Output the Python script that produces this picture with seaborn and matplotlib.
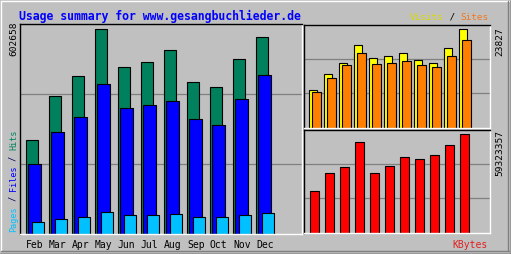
import numpy as np
import matplotlib
matplotlib.use("Agg")
import matplotlib.pyplot as plt
from matplotlib.lines import Line2D
import seaborn as sns

months = ['Feb', 'Mar', 'Apr', 'May', 'Jun', 'Jul', 'Aug', 'Sep', 'Oct', 'Nov', 'Dec']
hits = [276000, 406000, 464000, 602658, 491000, 506000, 541000, 447000, 432000, 515000, 579000]
files = [206000, 300000, 344000, 441000, 370000, 379000, 391000, 338000, 320000, 397000, 467000]
pages = [35000, 44000, 50000, 65000, 56000, 56000, 59000, 50000, 50000, 56000, 62000]
visits = [9195, 12927, 15610, 20000, 16756, 17244, 17976, 16268, 15537, 19195, 23827]
sites = [8537, 12122, 15049, 18049, 15366, 15610, 16024, 15049, 14561, 17244, 21146]
kbytes = [24800000, 35700000, 39300000, 54700000, 35700000, 40300000, 45400000,
          44400000, 46600000, 52800000, 59323357]

title = "Usage summary for www.gesangbuchlieder.de"

W, H = 511, 254
BG = '#c0c0c0'
sns.set_style("white")
plt.rcParams['font.family'] = ['DejaVu Sans Mono']

fig = plt.figure(figsize=(W / 100, H / 100), dpi=100, facecolor=BG)


def axes_px(left, top, right, bottom):
    return fig.add_axes([left / W, 1 - bottom / H, (right - left) / W, (bottom - top) / H])


def fx(x):
    return x / W


def fy(y):
    return 1 - y / H


def style_panel(ax, ymax):
    ax.set_facecolor(BG)
    for s in ['top', 'left']:
        ax.spines[s].set_color('black')
        ax.spines[s].set_linewidth(1.0)
    for s in ['bottom', 'right']:
        ax.spines[s].set_color('white')
        ax.spines[s].set_linewidth(1.0)
    ax.set_ylim(0, ymax)
    ax.set_yticks([ymax / 3, 2 * ymax / 3])
    ax.set_yticklabels([])
    ax.tick_params(axis='y', length=0)
    ax.grid(axis='y', color='#808080', linewidth=0.9)
    ax.grid(axis='x', visible=False)
    ax.set_axisbelow(True)
    ax.set_xlabel('')
    ax.set_ylabel('')


def bars(ax, x, y, color, width):
    sns.barplot(x=x, y=y, ax=ax, native_scale=True, width=width, color=color,
                edgecolor='black', linewidth=0.8, errorbar=None, orient='x',
                saturation=1)


idx = np.arange(len(months))

# main panel: hits / files / pages
ax1 = axes_px(20, 24, 302, 234)
bars(ax1, idx, hits, '#00805c', 0.55)
bars(ax1, idx + 0.12, files, '#0000ff', 0.56)
bars(ax1, idx + 0.27, pages, '#00c0ff', 0.54)
ax1.set_xlim(-0.52, 11.74)
style_panel(ax1, max(hits) * 210 / 205)
ax1.set_xticks(idx + 0.12)
ax1.set_xticklabels(months, fontsize=7, color='black')
ax1.tick_params(axis='x', length=0, pad=4.5)

# top right: visits / sites
ax2 = axes_px(304, 25, 490, 127.5)
bars(ax2, idx, visits, '#ffff00', 0.57)
bars(ax2, idx + 0.23, sites, '#ff8000', 0.56)
ax2.set_xlim(-0.61, 11.79)
style_panel(ax2, max(visits) * 102.5 / 98.2)
ax2.set_xticks([])

# bottom right: kbytes
ax3 = axes_px(304, 130, 490, 232.5)
bars(ax3, idx + 0.11, kbytes, '#ff0000', 0.6)
ax3.set_xlim(-0.61, 11.79)
style_panel(ax3, max(kbytes) * 102.5 / 98.2)
ax3.set_xticks([])

# title
fig.text(fx(19), fy(16), title, color='#0000ff', fontsize=8.3, fontweight='bold',
         ha='left', va='center')

# rotated max labels
fig.text(fx(13.5), fy(22), str(max(hits)), rotation=90, rotation_mode='anchor',
         ha='right', va='center', fontsize=6.8, color='black')
fig.text(fx(499.5), fy(27), str(max(visits)), rotation=90, rotation_mode='anchor',
         ha='right', va='center', fontsize=6.8, color='black')
fig.text(fx(499.5), fy(130), str(max(kbytes)), rotation=90, rotation_mode='anchor',
         ha='right', va='center', fontsize=6.8, color='black')


def seg_text(segments, x0, y0, size, rotation):
    adv = 0.6021 * size * 100 / 72
    pos = 0
    for txt, col in segments:
        if rotation == 90:
            fig.text(fx(x0), fy(y0 - pos * adv), txt, rotation=90, rotation_mode='anchor',
                     ha='left', va='center', fontsize=size, color=col)
        else:
            fig.text(fx(x0 + pos * adv), fy(y0), txt, ha='left', va='center',
                     fontsize=size, color=col)
        pos += len(txt)


seg_text([('Pages', '#00c0ff'), (' / ', '#000060'), ('Files', '#0000ff'),
          (' / ', '#000060'), ('Hits', '#00805c')], 13.5, 232, 6.1, 90)
seg_text([('Visits', '#d8d800'), (' / ', '#000000'), ('Sites', '#f07820')],
         410, 17, 6.7, 0)
fig.text(fx(488), fy(245), 'KBytes', ha='right', va='center', fontsize=7,
         color='#e02020')

# outer 3D frame
fig.add_artist(Line2D([fx(1), fx(509)], [fy(1), fy(1)], color='white', lw=1))
fig.add_artist(Line2D([fx(1), fx(1)], [fy(1), fy(251)], color='white', lw=1))
fig.add_artist(Line2D([fx(1), fx(509)], [fy(251), fy(251)], color='#808080', lw=1))
fig.add_artist(Line2D([fx(508), fx(508)], [fy(1), fy(251)], color='#808080', lw=1))
fig.add_artist(Line2D([fx(0), fx(511)], [fy(253.5), fy(253.5)], color='black', lw=1))
fig.add_artist(Line2D([fx(510.5), fx(510.5)], [fy(0), fy(254)], color='black', lw=1))

fig.savefig('out.png', dpi=100, facecolor=BG)
